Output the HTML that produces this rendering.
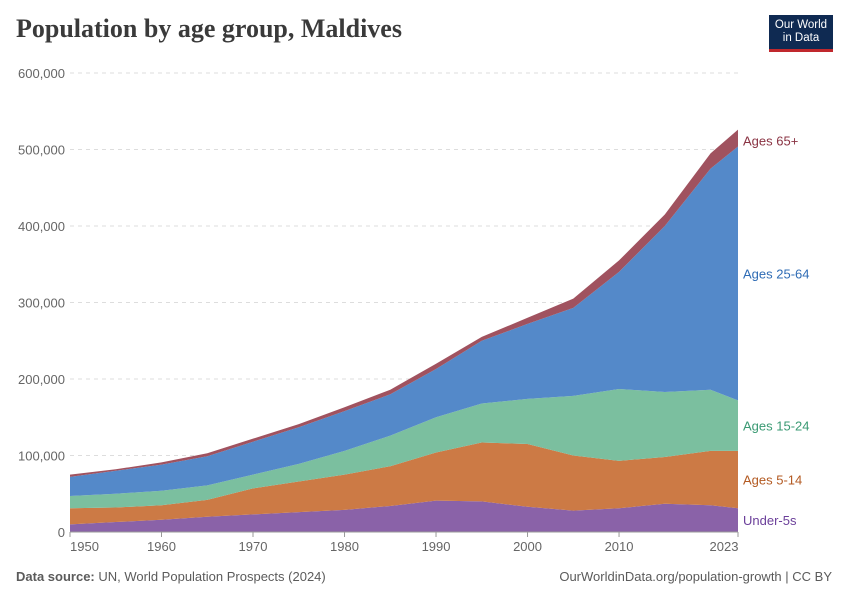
<!DOCTYPE html>
<html><head><meta charset="utf-8">
<style>
body{margin:0;background:#fff;font-family:"Liberation Sans",sans-serif;}
#wrap{position:relative;width:850px;height:600px;overflow:hidden;}
.title{position:absolute;left:16px;top:14px;font-family:"Liberation Serif",serif;font-size:26px;color:#3a3a3a;font-weight:bold;}
.logo{position:absolute;left:769px;top:15px;width:64px;height:37px;background:#0f2a52;border-bottom:3px solid #c0282d;color:#fff;font-size:11.5px;line-height:13px;text-align:center;padding-top:4px;box-sizing:border-box;}
.foot{position:absolute;top:569px;font-size:13px;color:#5b5b5b;}
</style></head><body>
<div id="wrap">
<div class="title">Population by age group, Maldives</div>
<div class="logo">Our World<br>in Data</div>
<svg id="svg" width="850" height="600" style="position:absolute;left:0;top:0"></svg>
<div class="foot" style="left:16px"><b>Data source:</b> UN, World Population Prospects (2024)</div>
<div class="foot" style="right:18px">OurWorldinData.org/population-growth | CC BY</div>
</div>
<script>
const years=[1950,1955,1960,1965,1970,1975,1980,1985,1990,1995,2000,2005,2010,2015,2020,2023];
const under5=[10,13,16,20,23,26,29,34,41,40,33,28,31,37,35,31];
const age5_14=[21,19,19,22,34,40,46,52,63,77,82,72,62,61,71,75];
const age15_24=[16,18,19,19,18,23,31,40,46,51,59,78,94,85,80,66];
const age25_64=[25,30,34,38,43,48,52,54,63,82,98,115,153,217,289,332];
const age65=[3,2,3,4,4,4,5,6,7,5,8,12,15,15,20,22];
const seriesNames=["Under-5s","Ages 5-14","Ages 15-24","Ages 25-64","Ages 65+"];
const yTicks=[0,100000,200000,300000,400000,500000,600000];
const xTicks=[1950,1960,1970,1980,1990,2000,2010,2023];
const colors=["#8a62a8","#cc7a45","#7bbf9f","#5489c9","#a0525f"];
const labelColors=["#6b3f9a","#b35a22","#3a9a73","#2f6cb5","#8a3343"];
const NS="http://www.w3.org/2000/svg",svg=document.getElementById('svg');
const x=y=>70+(y-1950)/(2023-1950)*668;
const yS=v=>532-v/600000*459;
function mk(t,a){const e=document.createElementNS(NS,t);for(const k in a)e.setAttribute(k,a[k]);svg.appendChild(e);return e;}
yTicks.forEach(t=>{
 if(t>0){const l=mk('line',{x1:70,x2:738,y1:yS(t),y2:yS(t),stroke:'#ddd','stroke-dasharray':'4,4'});
 
 }
 const tx=mk('text',{x:65,y:yS(t)+5,'text-anchor':'end','font-size':13,fill:'#666'});tx.textContent=t.toLocaleString('en-US');
 
 
});
const all=[under5,age5_14,age15_24,age25_64,age65];
let base=years.map(()=>0);
all.forEach((s,i)=>{
 const top=base.map((b,j)=>b+s[j]*1000);
 let d='M'+years.map((yr,j)=>x(yr)+','+yS(top[j])).join('L');
 for(let j=years.length-1;j>=0;j--)d+='L'+x(years[j])+','+yS(base[j]);
 const p=mk('path',{d:d+'Z',fill:colors[i]});
 
 
 const n=years.length-1;let ly=yS((base[n]+top[n])/2)+5;
 if(i==4)ly=yS(top[n])+16;
 const t=mk('text',{x:743,y:ly,'font-size':13,fill:labelColors[i]});t.textContent=seriesNames[i];
 
 
 base=top;
});
const ax=mk('line',{x1:70,x2:738,y1:532,y2:532,stroke:'#999'});


xTicks.forEach((t,i)=>{
 const l=mk('line',{x1:x(t),x2:x(t),y1:532,y2:537,stroke:'#999'});
 
 
 let anchor='middle',tx0=x(t);
 if(i==0){anchor='start';tx0=x(t);} if(i==xTicks.length-1){tx0=x(t)-14;}
 const tx=mk('text',{x:tx0,y:551,'text-anchor':anchor,'font-size':13,fill:'#666'});tx.textContent=t;
 
 
});
</script>
</body></html>
